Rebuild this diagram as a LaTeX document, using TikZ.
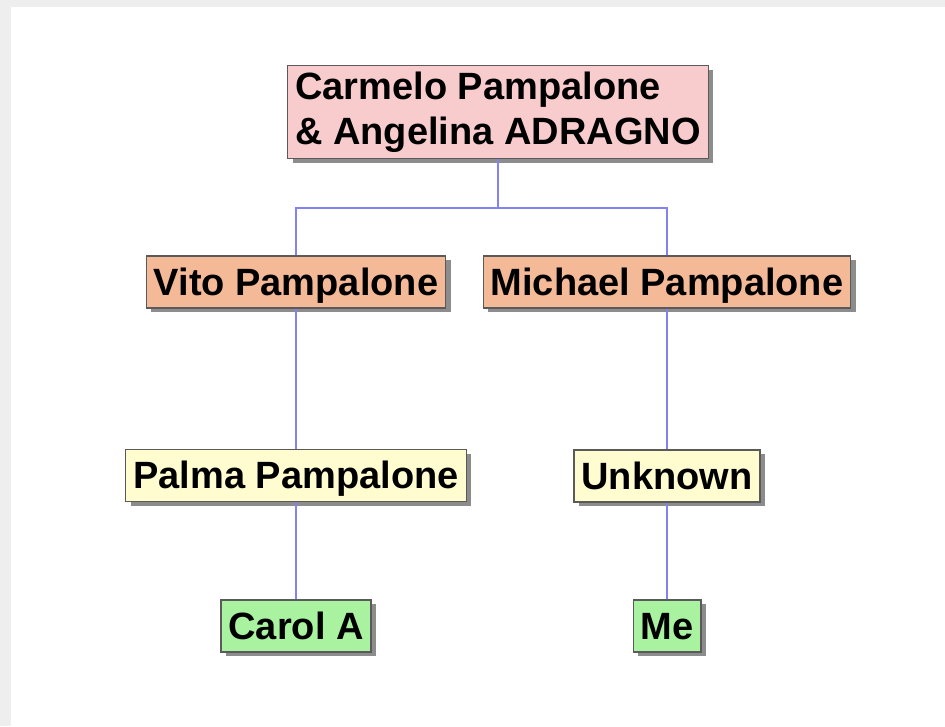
\documentclass[tikz,border=0pt]{standalone}
\usepackage{fontspec}
\setmainfont{Liberation Sans}
\usetikzlibrary{shadows}
\definecolor{pagegray}{HTML}{EEEEEE}
\definecolor{boxgray}{HTML}{5A5A5A}
\definecolor{linkblue}{HTML}{8282F0}
\definecolor{rootpink}{HTML}{F8CCCC}
\definecolor{kidorange}{HTML}{F4B996}
\definecolor{grandyellow}{HTML}{FFFDCF}
\definecolor{leafgreen}{HTML}{A8F2A0}
\tikzset{
 box/.style={draw=boxgray, line width=1.2pt, inner xsep=7.5pt,
  font=\fontsize{38}{45}\selectfont\bfseries,
  drop shadow={shadow xshift=5pt, shadow yshift=-4pt, fill=black!45, opacity=1}},
 person/.style={box, inner ysep=0pt, text height=32pt, text depth=6pt, minimum height=52pt},
 link/.style={draw=linkblue, line width=1.2pt}
}

\begin{document}
\begin{tikzpicture}[x=1pt,y=-1pt]
\useasboundingbox (0,0) rectangle (945,726);
\fill[pagegray] (0,0) rectangle (945,726);
\fill[white] (11,7) rectangle (945,726);

\node[box, fill=rootpink, align=left, minimum height=93pt] (root) at (498,112)
 {Carmelo Pampalone\\\& Angelina ADRAGNO};
\node[person, fill=kidorange] (vito) at (296,282) {Vito Pampalone};
\node[person, fill=kidorange] (michael) at (667,282) {Michael Pampalone};
\node[person, fill=grandyellow] (palma) at (296,475.5) {Palma Pampalone};
\node[person, fill=grandyellow] (unknown) at (667,476) {Unknown};
\node[person, fill=leafgreen] (carol) at (296,626) {Carol A};
\node[person, fill=leafgreen] (me) at (667,626) {Me};

\coordinate (fork) at (498,208);
\draw[link] (root.south) -- (fork);
\draw[link] (vito.north) |- (fork) -| (michael.north);
\draw[link] (vito) -- (palma) (palma) -- (carol);
\draw[link] (michael) -- (unknown) (unknown) -- (me);
\end{tikzpicture}
\end{document}
